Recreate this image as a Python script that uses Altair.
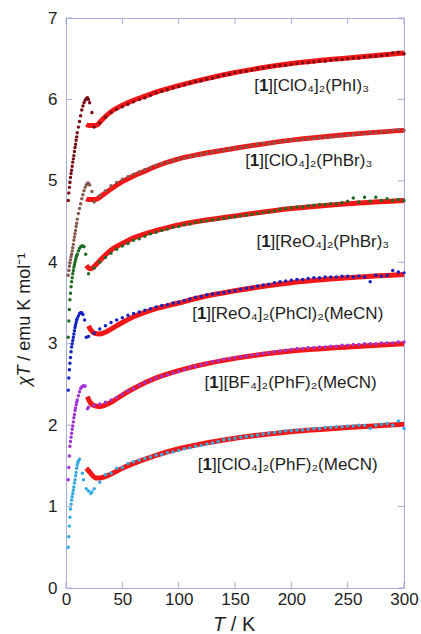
import altair as alt
import pandas as pd

# ---------------- data ----------------
SERIES = [
    "[1][ClO4]2(PhI)3",
    "[1][ClO4]2(PhBr)3",
    "[1][ReO4]2(PhBr)3",
    "[1][ReO4]2(PhCl)2(MeCN)",
    "[1][BF4]2(PhF)2(MeCN)",
    "[1][ClO4]2(PhF)2(MeCN)",
]
COLORS = ["#7a0c14", "#86594f", "#1f6b22", "#1222c2", "#a232d8", "#33aae2"]

# label text after "[1" (the "1" is drawn bold), anchor (T, chiT) of the left edge
LABEL_REST = [
    "][ClO\u2084]\u2082(PhI)\u2083",
    "][ClO\u2084]\u2082(PhBr)\u2083",
    "][ReO\u2084]\u2082(PhBr)\u2083",
    "][ReO\u2084]\u2082(PhCl)\u2082(MeCN)",
    "][BF\u2084]\u2082(PhF)\u2082(MeCN)",
    "][ClO\u2084]\u2082(PhF)\u2082(MeCN)",
]
LABEL_T = [167, 159, 169, 112, 123, 117]
LABEL_CHI = [6.17, 5.25, 4.25, 3.37, 2.52, 1.51]

T_MAIN = [25, 30, 35, 40, 45, 50, 55, 60, 65, 70,
          75, 80, 85, 90, 95, 100, 105, 110, 115, 120,
          125, 130, 135, 140, 145, 150, 155, 160, 165, 170,
          175, 180, 185, 190, 195, 200, 205, 210, 215, 220,
          225, 230, 235, 240, 245, 250, 255, 260, 265, 270,
          275, 280, 285, 290, 295, 300]

MAIN = [
    [5.66, 5.71, 5.78, 5.84, 5.88, 5.91, 5.94, 5.97, 6.00, 6.02,
     6.05, 6.08, 6.10, 6.12, 6.14, 6.16, 6.18, 6.20, 6.22, 6.23,
     6.25, 6.26, 6.28, 6.30, 6.31, 6.33, 6.34, 6.35, 6.36, 6.38,
     6.39, 6.40, 6.41, 6.42, 6.42, 6.43, 6.44, 6.45, 6.45, 6.46,
     6.47, 6.47, 6.48, 6.49, 6.49, 6.50, 6.51, 6.51, 6.52, 6.53,
     6.53, 6.54, 6.55, 6.57, 6.58, 6.56],
    [4.74, 4.82, 4.88, 4.94, 4.98, 5.02, 5.05, 5.08, 5.11, 5.14,
     5.16, 5.19, 5.21, 5.23, 5.25, 5.27, 5.28, 5.30, 5.31, 5.33,
     5.34, 5.35, 5.37, 5.38, 5.39, 5.40, 5.41, 5.42, 5.43, 5.45,
     5.46, 5.46, 5.47, 5.48, 5.49, 5.50, 5.50, 5.51, 5.52, 5.52,
     5.53, 5.54, 5.54, 5.55, 5.56, 5.56, 5.57, 5.58, 5.58, 5.59,
     5.59, 5.60, 5.61, 5.62, 5.63, 5.62],
    [3.93, 4.00, 4.06, 4.11, 4.16, 4.20, 4.23, 4.27, 4.29, 4.32,
     4.35, 4.37, 4.39, 4.41, 4.43, 4.44, 4.46, 4.47, 4.49, 4.50,
     4.51, 4.52, 4.53, 4.54, 4.55, 4.56, 4.57, 4.58, 4.59, 4.60,
     4.61, 4.62, 4.63, 4.65, 4.66, 4.67, 4.68, 4.68, 4.69, 4.70,
     4.71, 4.71, 4.72, 4.72, 4.73, 4.75, 4.79, 4.74, 4.80, 4.75,
     4.80, 4.76, 4.78, 4.76, 4.77, 4.76],
    [3.13, 3.18, 3.22, 3.26, 3.29, 3.32, 3.35, 3.37, 3.39, 3.41,
     3.43, 3.45, 3.47, 3.48, 3.50, 3.51, 3.53, 3.55, 3.57, 3.58,
     3.60, 3.61, 3.62, 3.63, 3.64, 3.65, 3.67, 3.68, 3.69, 3.71,
     3.72, 3.73, 3.75, 3.76, 3.77, 3.78, 3.79, 3.79, 3.80, 3.81,
     3.81, 3.82, 3.82, 3.82, 3.83, 3.83, 3.82, 3.83, 3.82, 3.76,
     3.84, 3.83, 3.84, 3.90, 3.88, 3.87],
    [2.24, 2.26, 2.28, 2.31, 2.34, 2.38, 2.42, 2.45, 2.49, 2.52,
     2.55, 2.58, 2.60, 2.62, 2.64, 2.66, 2.68, 2.71, 2.72, 2.74,
     2.76, 2.78, 2.79, 2.81, 2.82, 2.83, 2.84, 2.85, 2.86, 2.87,
     2.88, 2.89, 2.90, 2.91, 2.92, 2.93, 2.94, 2.94, 2.95, 2.95,
     2.96, 2.96, 2.97, 2.97, 2.98, 2.98, 2.99, 2.99, 3.00, 3.00,
     3.00, 3.01, 3.01, 3.01, 3.02, 3.02],
    [1.22, 1.30, 1.39, 1.41, 1.47, 1.48, 1.53, 1.55, 1.57, 1.59,
     1.61, 1.63, 1.64, 1.66, 1.67, 1.69, 1.71, 1.72, 1.74, 1.75,
     1.77, 1.78, 1.80, 1.82, 1.83, 1.84, 1.85, 1.86, 1.87, 1.88,
     1.89, 1.90, 1.91, 1.92, 1.93, 1.93, 1.94, 1.94, 1.95, 1.96,
     1.96, 1.97, 1.97, 1.98, 1.98, 1.99, 1.99, 2.00, 2.00, 1.96,
     2.00, 2.01, 2.02, 2.00, 2.05, 1.96],
]

LOW_T = [
    [2, 2.5, 3, 3.5, 4, 4.5, 5, 5.5, 6, 6.5, 7, 7.5, 8, 8.5, 9, 9.5, 10,
     11, 12, 13, 14, 15, 16, 17, 18, 19, 20, 21, 23],
    [2, 2.5, 3, 3.5, 4, 4.5, 5, 5.5, 6, 6.5, 7, 7.5, 8, 8.5, 9, 9.5, 10,
     11, 12, 13, 14, 15, 16, 17, 18, 19, 20, 21, 23],
    [2, 2.5, 3, 3.5, 4, 4.5, 5, 5.5, 6, 6.5, 7, 7.5, 8, 8.5, 9, 9.5, 10,
     11, 12, 13, 14, 15, 16, 17.5, 20],
    [2, 2.5, 3, 3.5, 4, 4.5, 5, 5.5, 6, 6.5, 7, 7.5, 8, 8.5, 9, 9.5, 10,
     11, 12, 13, 14, 15, 16.5, 18, 20],
    [2, 2.5, 3, 3.5, 4, 4.5, 5, 5.5, 6, 6.5, 7, 7.5, 8, 8.5, 9, 9.5, 10,
     11, 12, 13, 14, 15, 16, 17, 19, 20],
    [2, 2.5, 3, 3.5, 4, 4.5, 5, 5.5, 6, 6.5, 7, 7.5, 8, 8.5, 9, 9.5, 10,
     10.5, 11, 12, 14.5, 15.5, 18, 20, 22, 23],
]
LOW = [
    [4.76, 4.85, 4.92, 4.98, 5.04, 5.09, 5.13, 5.18, 5.23, 5.27, 5.31, 5.36, 5.41, 5.45, 5.50, 5.54, 5.59,
     5.66, 5.73, 5.80, 5.87, 5.92, 5.96, 5.99, 6.01, 6.02, 6.00, 5.96, 5.84],
    [3.84, 3.90, 3.95, 3.99, 4.03, 4.07, 4.10, 4.14, 4.18, 4.22, 4.27, 4.31, 4.35, 4.39, 4.44, 4.48, 4.53,
     4.60, 4.66, 4.72, 4.78, 4.83, 4.88, 4.92, 4.95, 4.97, 4.97, 4.95, 4.87],
    [3.08, 3.28, 3.42, 3.54, 3.62, 3.70, 3.76, 3.81, 3.86, 3.90, 3.94, 3.97, 4.00, 4.03, 4.06, 4.08, 4.10,
     4.14, 4.17, 4.19, 4.20, 4.20, 4.19, 4.10, 3.86],
    [2.43, 2.58, 2.68, 2.76, 2.83, 2.90, 2.96, 3.00, 3.04, 3.08, 3.12, 3.16, 3.20, 3.23, 3.26, 3.29, 3.31,
     3.34, 3.37, 3.38, 3.38, 3.36, 3.29, 3.08, 3.09],
    [1.33, 1.48, 1.62, 1.74, 1.80, 1.85, 1.90, 1.95, 1.99, 2.04, 2.09, 2.13, 2.18, 2.21, 2.25, 2.28, 2.31,
     2.36, 2.41, 2.45, 2.47, 2.48, 2.48, 2.48, 2.20, 2.22],
    [0.50, 0.63, 0.76, 0.87, 0.97, 1.03, 1.08, 1.12, 1.16, 1.20, 1.24, 1.29, 1.33, 1.38, 1.42, 1.47, 1.51,
     1.54, 1.56, 1.58, 1.41, 1.33, 1.22, 1.19, 1.16, 1.18],
]

FIT_T = [
    [18, 20, 25, 28, 30, 35, 40, 50, 60, 70, 80, 100, 120, 150, 200, 250, 300],
    [18, 20, 25, 28, 30, 35, 40, 50, 60, 70, 80, 100, 120, 150, 200, 250, 300],
    [18, 20, 22, 25, 30, 35, 40, 50, 60, 70, 80, 100, 120, 150, 200, 250, 300],
    [20, 22, 25, 30, 35, 40, 50, 60, 80, 100, 120, 150, 200, 250, 300],
    [19, 21, 25, 30, 40, 50, 60, 80, 100, 120, 150, 200, 250, 300],
    [18, 20, 23, 27, 30, 35, 40, 50, 60, 80, 100, 120, 150, 200, 250, 300],
]
FIT = [
    [5.69, 5.68, 5.68, 5.69, 5.72, 5.79, 5.85, 5.93, 5.99, 6.04, 6.09, 6.17, 6.24, 6.33, 6.44, 6.51, 6.57],
    [4.78, 4.77, 4.77, 4.78, 4.80, 4.85, 4.90, 4.99, 5.06, 5.12, 5.18, 5.27, 5.33, 5.40, 5.50, 5.57, 5.62],
    [3.96, 3.93, 3.92, 3.95, 4.02, 4.09, 4.15, 4.23, 4.30, 4.35, 4.39, 4.46, 4.51, 4.57, 4.66, 4.72, 4.76],
    [3.22, 3.17, 3.13, 3.12, 3.14, 3.18, 3.26, 3.33, 3.43, 3.50, 3.57, 3.65, 3.75, 3.81, 3.85],
    [2.35, 2.29, 2.24, 2.23, 2.28, 2.37, 2.45, 2.58, 2.67, 2.74, 2.82, 2.91, 2.96, 3.00],
    [1.47, 1.44, 1.39, 1.35, 1.35, 1.37, 1.40, 1.47, 1.53, 1.63, 1.71, 1.77, 1.84, 1.92, 1.97, 2.01],
]

X_TICKS = [0, 50, 100, 150, 200, 250, 300]
Y_TICKS = [0, 1, 2, 3, 4, 5, 6, 7]

# ---------------- tables ----------------
pt_rows, fit_rows = [], []
for i, name in enumerate(SERIES):
    for t, v in zip(LOW_T[i] + T_MAIN, LOW[i] + MAIN[i]):
        pt_rows.append({"series": name, "T": t, "chi": v})
    for t, v in zip(FIT_T[i], FIT[i]):
        fit_rows.append({"series": name, "T": t, "chi": v})
pts = pd.DataFrame(pt_rows)
fits = pd.DataFrame(fit_rows)
labels = pd.DataFrame({"T": LABEL_T, "chi": LABEL_CHI, "rest": LABEL_REST})
xt = pd.DataFrame({"T": X_TICKS})
yt = pd.DataFrame({"chi": Y_TICKS})

W, H = 338, 570
FONT = "Liberation Sans"
FS_LABEL = 17
FS_XTITLE = 20
FS_YTITLE = 18
FRAME = "#a9acd9"
TXT = "#1e1e1e"

xscale = alt.Scale(domain=[0, 300], nice=False, zero=False)
yscale = alt.Scale(domain=[0, 7], nice=False)
X = alt.X("T:Q", scale=xscale,
          axis=alt.Axis(values=X_TICKS, title=None, labelPadding=3, labelFlush=False, format="d"))
Y = alt.Y("chi:Q", scale=yscale,
          axis=alt.Axis(values=Y_TICKS, title=None, labelPadding=9, format="d"))

fit_layer = alt.Chart(fits).mark_line(
    color="#f21616", strokeWidth=5, interpolate="monotone"
).encode(x=X, y=Y, detail="series:N")

pt_layer = alt.Chart(pts).mark_circle(size=12, opacity=1).encode(
    x=X, y=Y,
    color=alt.Color("series:N", scale=alt.Scale(domain=SERIES, range=COLORS), legend=None),
)

def label_piece(text_enc, dx, bold=False):
    kw = dict(align="left", baseline="middle", font=FONT, fontSize=FS_LABEL, color=TXT, dx=dx)
    if bold:
        kw["fontWeight"] = "bold"
    return alt.Chart(labels).mark_text(**kw).encode(x=X, y=Y, text=text_enc)

lab_open = label_piece(alt.value("["), 0)
lab_one = label_piece(alt.value("1"), round(0.278 * FS_LABEL, 2), bold=True)
lab_rest = label_piece("rest:N", round(0.834 * FS_LABEL, 2))

# axis titles (italic symbol + upright unit)
title_df = pd.DataFrame({"k": [0]})
cx = W / 2
xt_T = alt.Chart(title_df).mark_text(
    align="left", baseline="middle", font=FONT, fontSize=FS_XTITLE, fontStyle="italic", color=TXT
).encode(x=alt.value(cx - 22), y=alt.value(H + 37), text=alt.value("T"))
xt_K = alt.Chart(title_df).mark_text(
    align="left", baseline="middle", font=FONT, fontSize=FS_XTITLE, color=TXT
).encode(x=alt.value(cx - 22 + 0.889 * FS_XTITLE),
         y=alt.value(H + 37), text=alt.value("/ K"))

ty_bottom = 368
yt_chi = alt.Chart(title_df).mark_text(
    align="left", baseline="middle", font=FONT, fontSize=FS_YTITLE, fontStyle="italic",
    color=TXT, angle=270
).encode(x=alt.value(-41), y=alt.value(ty_bottom), text=alt.value("\u03c7T"))
yt_unit = alt.Chart(title_df).mark_text(
    align="left", baseline="middle", font=FONT, fontSize=FS_YTITLE, color=TXT, angle=270
).encode(x=alt.value(-41), y=alt.value(ty_bottom - 1.40 * FS_YTITLE),
         text=alt.value("/ emu K mol\u207b\u00b9"))

tick_b = alt.Chart(xt).mark_rule(color=FRAME).encode(x="T:Q", y=alt.value(H), y2=alt.value(H - 6))
tick_t = alt.Chart(xt).mark_rule(color=FRAME).encode(x="T:Q", y=alt.value(0), y2=alt.value(6))
tick_l = alt.Chart(yt).mark_rule(color=FRAME).encode(y="chi:Q", x=alt.value(0), x2=alt.value(6))
tick_r = alt.Chart(yt).mark_rule(color=FRAME).encode(y="chi:Q", x=alt.value(W), x2=alt.value(W - 6))

chart = alt.layer(
    tick_b, tick_t, tick_l, tick_r, fit_layer, pt_layer,
    lab_open, lab_one, lab_rest, xt_T, xt_K, yt_chi, yt_unit
).properties(
    width=W, height=H,
    autosize=alt.AutoSizeParams(type="none"),
    padding={"left": 66, "top": 18, "right": 17, "bottom": 46},
    background="white",
).configure_view(
    stroke=FRAME, strokeWidth=1
).configure_axis(
    domain=False, ticks=False, grid=False,
    labelFont=FONT, labelFontSize=17, labelColor=TXT,
)

chart.save("out.html", embed_options={"renderer": "svg", "actions": False})
